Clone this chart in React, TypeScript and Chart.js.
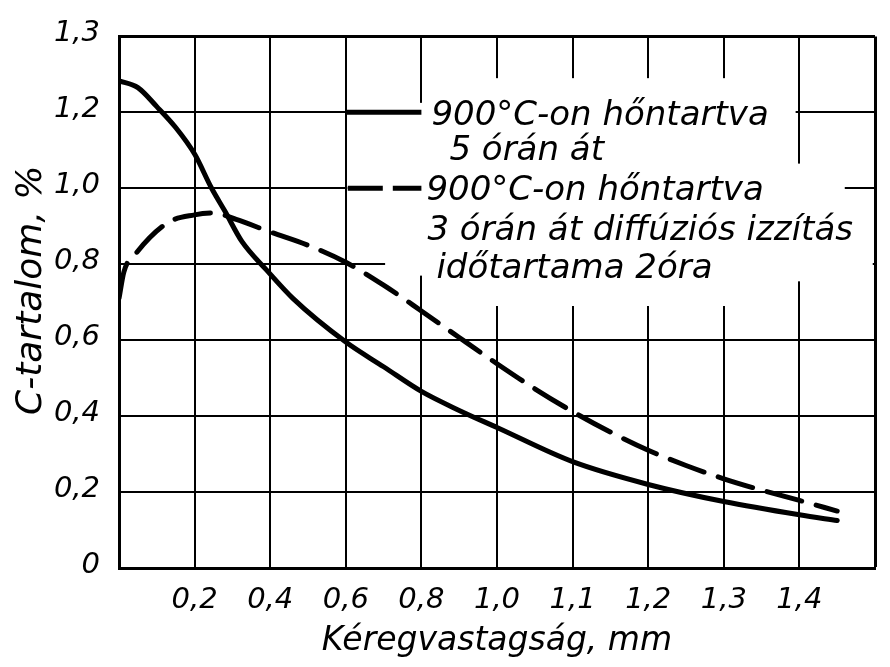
import { useEffect, useRef } from "react";
import { Chart, registerables } from "chart.js";

Chart.register(...registerables);

// Axis tick labels (as printed on the original chart)
const xTickLabels = ["", "0,2", "0,4", "0,6", "0,8", "1,0", "1,1", "1,2", "1,3", "1,4", ""];
const yTickLabels = ["0", "0,2", "0,4", "0,6", "0,8", "1,0", "1,2", "1,3"];

// Kéregvastagság (mm) and C-tartalom values
const solidDepth = [0, 0.05, 0.1, 0.15, 0.2, 0.245, 0.28, 0.325, 0.39, 0.46, 0.6, 0.7, 0.8, 0.9, 1.0, 1.1, 1.2, 1.3, 1.4, 1.45];
const solidCarbon = [1.283, 1.265, 1.215, 1.16, 1.09, 1.0, 0.94, 0.86, 0.785, 0.71, 0.595, 0.53, 0.465, 0.415, 0.37, 0.28, 0.22, 0.175, 0.14, 0.125];

const dashedDepth = [0, 0.013, 0.046, 0.13, 0.2, 0.25, 0.31, 0.4, 0.5, 0.6, 0.7, 0.8, 0.9, 1.0, 1.05, 1.1, 1.15, 1.2, 1.25, 1.3, 1.35, 1.4, 1.45];
const dashedCarbon = [0.71, 0.78, 0.83, 0.91, 0.93, 0.935, 0.918, 0.885, 0.85, 0.805, 0.745, 0.677, 0.607, 0.538, 0.472, 0.412, 0.358, 0.31, 0.27, 0.235, 0.205, 0.178, 0.15];

const legendSolid = ["900°C-on hőntartva", "5 órán át"];
const legendDashed = ["900°C-on hőntartva", "3 órán át diffúziós izzítás", "időtartama 2óra"];

const xTitle = "Kéregvastagság, mm";
const yTitle = "C-tartalom, %";

const FONT = "'DejaVu Sans', sans-serif";

// the printed x axis is 0.2 mm per division up to 1.0 mm, then 0.1 mm per division
function depthToDivision(mm: number): number {
  return mm <= 1.0 ? mm / 0.2 : 5 + (mm - 1.0) / 0.1;
}

const DASH = [36, 15];

// white areas behind the legend text (in division / value units): [x0, x1, y0, y1]
const masks: number[][] = [
  [3.97, 8.95, 0.77, 1.225],
  [4.8, 8.5, 0.69, 1.29],
  [8.5, 9.6, 0.755, 1.065],
  [3.52, 9.97, 0.775, 0.825],
  [3.02, 3.98, 0.98, 1.02],
];

const overlayPlugin = {
  id: "overlay",
  beforeDatasetsDraw(chart: any) {
    const { ctx, scales } = chart;
    const x = scales.x;
    const y = scales.y;
    ctx.save();
    ctx.fillStyle = "#fff";
    for (const [x0, x1, y0, y1] of masks) {
      const px0 = x.getPixelForValue(x0);
      const px1 = x.getPixelForValue(x1);
      const py0 = y.getPixelForValue(y1);
      const py1 = y.getPixelForValue(y0);
      ctx.fillRect(px0, py0, px1 - px0, py1 - py0);
    }
    // legend samples
    ctx.strokeStyle = "#000";
    ctx.lineWidth = 5;
    ctx.lineCap = "butt";
    const sx0 = x.getPixelForValue(3);
    const sx1 = x.getPixelForValue(4);
    const ySolid = y.getPixelForValue(1.2);
    const yDash = y.getPixelForValue(1.0);
    ctx.beginPath();
    ctx.moveTo(sx0, ySolid);
    ctx.lineTo(sx1, ySolid);
    ctx.stroke();
    ctx.setLineDash([35, 10]);
    ctx.beginPath();
    ctx.moveTo(sx0 + 2, yDash);
    ctx.lineTo(sx1, yDash);
    ctx.stroke();
    ctx.setLineDash([]);

    // legend text
    ctx.fillStyle = "#000";
    ctx.font = `italic 34px ${FONT}`;
    ctx.textAlign = "left";
    ctx.textBaseline = "alphabetic";
    ctx.fillText(legendSolid[0], sx1 + 10, ySolid + 13);
    ctx.fillText(legendSolid[1], sx1 + 28, ySolid + 48);
    ctx.fillText(legendDashed[0], sx1 + 5, yDash + 12);
    ctx.fillText(legendDashed[1], sx1 + 6, yDash + 52);
    ctx.fillText(legendDashed[2], sx1 + 15, yDash + 90);

    // y axis title (drawn here so it can sit at the printed height)
    ctx.save();
    ctx.font = `italic 36px ${FONT}`;
    ctx.textAlign = "center";
    ctx.textBaseline = "middle";
    ctx.translate(32, (chart.chartArea.top + chart.chartArea.bottom) / 2 - 12);
    ctx.rotate(-Math.PI / 2);
    ctx.fillText(yTitle, 0, 0);
    ctx.restore();
    ctx.restore();
  },
};

export default function App() {
  const ref = useRef<HTMLCanvasElement>(null);

  useEffect(() => {
    document.body.style.margin = "0";
    const solidData = solidDepth.map((d, i) => ({ x: depthToDivision(d), y: solidCarbon[i] }));
    const dashedData = dashedDepth.map((d, i) => ({ x: depthToDivision(d), y: dashedCarbon[i] }));

    const chart = new Chart(ref.current as HTMLCanvasElement, {
      type: "line",
      data: {
        datasets: [
          {
            label: legendSolid.join(" "),
            data: solidData,
            borderColor: "#000",
            borderWidth: 5,
            pointRadius: 0,
            cubicInterpolationMode: "monotone",
            borderCapStyle: "round",
            fill: false,
          },
          {
            label: legendDashed.join(" "),
            data: dashedData,
            borderColor: "#000",
            borderWidth: 5,
            borderDash: DASH,
            pointRadius: 0,
            cubicInterpolationMode: "monotone",
            borderCapStyle: "round",
            fill: false,
          },
        ],
      },
      options: {
        animation: false,
        responsive: true,
        maintainAspectRatio: false,
        layout: { padding: { top: 35, right: 12, left: 0, bottom: 0 } },
        plugins: {
          legend: { display: false },
          tooltip: { enabled: false },
        },
        scales: {
          x: {
            type: "linear",
            min: 0,
            max: 10,
            afterFit: (s: any) => {
              s.height = 99;
            },
            ticks: {
              stepSize: 1,
              autoSkip: false,
              maxRotation: 0,
              padding: 15,
              color: "#000",
              font: { family: FONT, size: 29, style: "italic" },
              callback: (_v: any, i: number) => xTickLabels[i] ?? "",
            },
            grid: {
              color: "#000",
              lineWidth: (c: any) => (c.index === xTickLabels.length - 1 ? 3 : 2),
              drawTicks: false,
            },
            border: { display: true, color: "#000", width: 3 },
            title: {
              display: true,
              text: xTitle,
              color: "#000",
              font: { family: FONT, size: 33, style: "italic" },
              padding: { top: 0, bottom: 6 },
            },
          },
          y: {
            type: "linear",
            min: 0,
            max: 1.4,
            afterFit: (s: any) => {
              s.width = 119;
            },
            ticks: {
              stepSize: 0.2,
              autoSkip: false,
              padding: 19,
              labelOffset: -3,
              color: "#000",
              font: { family: FONT, size: 29, style: "italic" },
              callback: (_v: any, i: number) => yTickLabels[i] ?? "",
            },
            grid: {
              color: "#000",
              lineWidth: (c: any) => (c.index === yTickLabels.length - 1 ? 3 : 2),
              drawTicks: false,
            },
            border: { display: true, color: "#000", width: 3 },
            title: { display: false, text: yTitle },
          },
        },
      },
      plugins: [overlayPlugin],
    } as any);

    return () => chart.destroy();
  }, []);

  return (
    <div style={{ width: 890, height: 667, position: "relative", background: "#fff" }}>
      <canvas ref={ref} />
    </div>
  );
}
